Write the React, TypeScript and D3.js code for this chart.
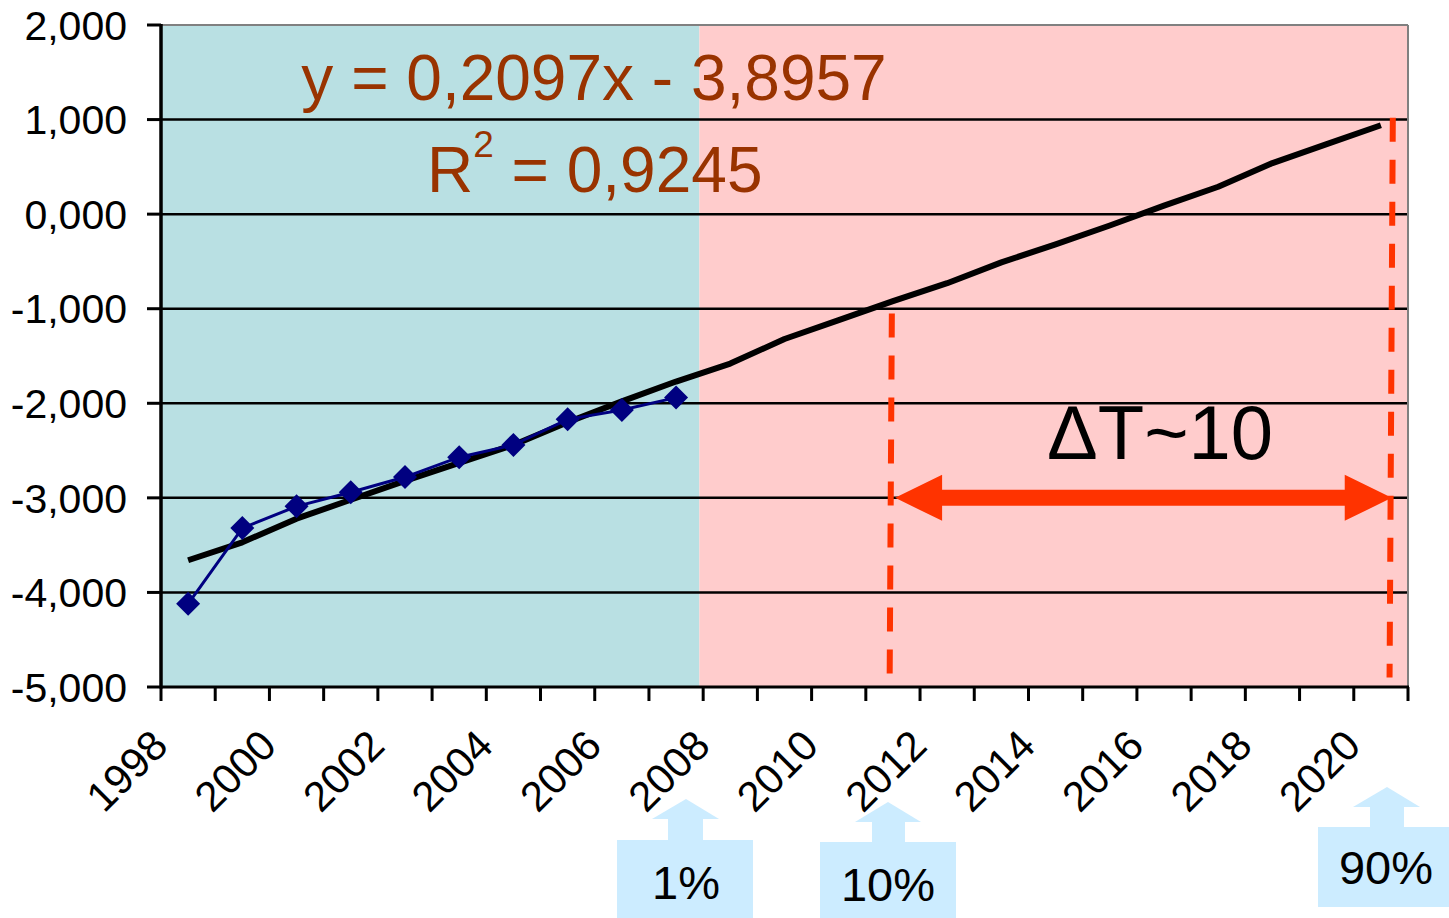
import React from "react";
import * as d3 from "d3";

// ---- data ----
const dataYears = [1998.5, 1999.5, 2000.5, 2001.5, 2002.5, 2003.5, 2004.5, 2005.5, 2006.5, 2007.5];
const dataValues = [-4.12, -3.32, -3.09, -2.94, -2.78, -2.57, -2.44, -2.17, -2.07, -1.94];

const trendYears = [
  1998.5, 1999.5, 2000.5, 2001.5, 2002.5, 2003.5, 2004.5, 2005.5, 2006.5, 2007.5, 2008.5, 2009.5,
  2010.5, 2011.5, 2012.5, 2013.5, 2014.5, 2015.5, 2016.5, 2017.5, 2018.5, 2019.5, 2020.5,
];
const trendValues = [
  -3.66, -3.47, -3.22, -3.02, -2.82, -2.63, -2.44, -2.2, -1.98, -1.77, -1.58, -1.32,
  -1.12, -0.92, -0.73, -0.51, -0.32, -0.12, 0.09, 0.29, 0.54, 0.74, 0.94,
];

const yTicks = [2, 1, 0, -1, -2, -3, -4, -5];
const yTickLabels = ["2,000", "1,000", "0,000", "-1,000", "-2,000", "-3,000", "-4,000", "-5,000"];
const xTickYears = d3.range(1998, 2022);
const xLabelYears = [1998, 2000, 2002, 2004, 2006, 2008, 2010, 2012, 2014, 2016, 2018, 2020];

const regionSplitYear = 2007.93;
const markerLines = [
  { top: { x: 2011.48, y: -1.05 }, bottom: { x: 2011.44, y: -4.87 } },
  { top: { x: 2020.72, y: 1.02 }, bottom: { x: 2020.66, y: -4.9 } },
];
const arrowFrom = 2011.54;
const arrowTo = 2020.7;
const arrowValue = -3.0;

const equationText = "y = 0,2097x - 3,8957";
const r2Value = " = 0,9245";
const deltaText = "ΔT~10";
const callouts = [
  { label: "1%", box: [617, 840, 136, 78], stem: [668, 703, 819], head: [652, 719, 686, 799], tx: 686, ty: 899 },
  { label: "10%", box: [820, 842, 136, 76], stem: [872, 905, 822], head: [855, 921, 888, 802], tx: 888, ty: 901 },
  { label: "90%", box: [1318, 827, 131, 80], stem: [1370, 1404, 807], head: [1353, 1420, 1387, 787], tx: 1386, ty: 884 },
];

const W = 1449;
const H = 918;
const FONT = "'Liberation Sans', Arial, sans-serif";

export default function App() {
  const x = d3.scaleLinear().domain([1998, 2021]).range([161, 1408]);
  const y = d3.scaleLinear().domain([-5, 2]).range([687, 25]);

  const dataLine = d3
    .line<number>()
    .x((_, i) => x(dataYears[i]))
    .y((d) => y(d))(dataValues) as string;

  const trendLine = d3
    .line<number>()
    .x((_, i) => x(trendYears[i]))
    .y((d) => y(d))(trendValues) as string;

  const ax0 = x(arrowFrom);
  const ax1 = x(arrowTo);
  const ay = y(arrowValue);
  const headL = 47;
  const headH = 23;
  const shaft = 8;
  const arrowPts = [
    [ax0, ay],
    [ax0 + headL, ay - headH],
    [ax0 + headL, ay - shaft],
    [ax1 - headL, ay - shaft],
    [ax1 - headL, ay - headH],
    [ax1, ay],
    [ax1 - headL, ay + headH],
    [ax1 - headL, ay + shaft],
    [ax0 + headL, ay + shaft],
    [ax0 + headL, ay + headH],
  ]
    .map((p) => p.join(","))
    .join(" ");

  const x0 = x(1998);
  const x1 = x(2021);
  const yTop = y(2);
  const yBot = y(-5);

  return (
    <svg
      width={W}
      height={H}
      style={{ position: "absolute", left: 0, top: 0, display: "block", background: "#fff" }}
      fontFamily={FONT}
    >
      {/* background regions */}
      <rect x={x0} y={yTop} width={x(regionSplitYear) - x0} height={yBot - yTop} fill="#B9E0E3" />
      <rect x={x(regionSplitYear)} y={yTop} width={x1 - x(regionSplitYear)} height={yBot - yTop} fill="#FFCCCC" />
      {/* plot border */}
      <line x1={x0} x2={x1} y1={yTop} y2={yTop} stroke="#808080" strokeWidth={2} />
      <line x1={x1} x2={x1} y1={yTop} y2={yBot} stroke="#808080" strokeWidth={2} />

      {/* gridlines */}
      {yTicks
        .filter((t) => t !== 2 && t !== -5)
        .map((t) => (
          <line key={t} x1={x0} x2={x1 - 1} y1={y(t)} y2={y(t)} stroke="#000" strokeWidth={2.5} />
        ))}

      {/* equation texts */}
      <text x={594} y={100} fontSize={64} fill="#993300" textAnchor="middle">
        {equationText}
      </text>
      <text x={427} y={192} fontSize={64} fill="#993300">
        R
        <tspan fontSize={37} dy={-35}>
          2
        </tspan>
        <tspan dy={35}>{r2Value}</tspan>
      </text>

      {/* dashed marker lines */}
      {markerLines.map((m, i) => (
        <line
          key={i}
          x1={x(m.top.x)}
          y1={y(m.top.y)}
          x2={x(m.bottom.x)}
          y2={y(m.bottom.y)}
          stroke="#FF3300"
          strokeWidth={6}
          strokeDasharray="24 18"
        />
      ))}

      {/* trend line */}
      <path d={trendLine} fill="none" stroke="#000" strokeWidth={6} strokeLinejoin="round" />

      {/* data series */}
      <path d={dataLine} fill="none" stroke="#000080" strokeWidth={3} />
      {dataValues.map((v, i) => {
        const cx = x(dataYears[i]);
        const cy = y(v);
        const r = 12;
        return (
          <polygon
            key={i}
            points={`${cx},${cy - r} ${cx + r},${cy} ${cx},${cy + r} ${cx - r},${cy}`}
            fill="#000080"
          />
        );
      })}

      {/* double arrow */}
      <polygon points={arrowPts} fill="#FF3300" />
      <text x={1160} y={459} fontSize={76} fill="#000" textAnchor="middle">
        {deltaText}
      </text>

      {/* axes */}
      <line x1={x0} x2={x0} y1={yTop - 1} y2={yBot + 1.5} stroke="#000" strokeWidth={3.5} />
      <line x1={x0} x2={x1 + 1} y1={yBot} y2={yBot} stroke="#000" strokeWidth={3} />
      {yTicks.map((t, i) => (
        <g key={t}>
          <line x1={147} x2={x0} y1={y(t)} y2={y(t)} stroke="#000" strokeWidth={3} />
          <text x={127} y={y(t)} dy="0.36em" fontSize={41} textAnchor="end" fill="#000">
            {yTickLabels[i]}
          </text>
        </g>
      ))}
      {xTickYears.map((t) => (
        <line key={t} x1={x(t)} x2={x(t)} y1={yBot} y2={yBot + 14} stroke="#000" strokeWidth={3} />
      ))}
      {xLabelYears.map((t) => {
        const px = x(t) + 9;
        const py = 748;
        return (
          <text
            key={t}
            x={px}
            y={py}
            fontSize={42}
            textAnchor="end"
            fill="#000"
            transform={`rotate(-45 ${px} ${py})`}
          >
            {t}
          </text>
        );
      })}

      {/* callouts */}
      {callouts.map((c) => (
        <g key={c.label}>
          <rect x={c.box[0]} y={c.box[1]} width={c.box[2]} height={c.box[3]} fill="#CCECFF" />
          <rect x={c.stem[0]} y={c.stem[2]} width={c.stem[1] - c.stem[0]} height={c.box[1] - c.stem[2] + 1} fill="#CCECFF" />
          <polygon
            points={`${c.head[0]},${c.stem[2]} ${c.head[1]},${c.stem[2]} ${c.head[2]},${c.head[3]}`}
            fill="#CCECFF"
          />
          <text x={c.tx} y={c.ty} fontSize={47} textAnchor="middle" fill="#000">
            {c.label}
          </text>
        </g>
      ))}
    </svg>
  );
}
